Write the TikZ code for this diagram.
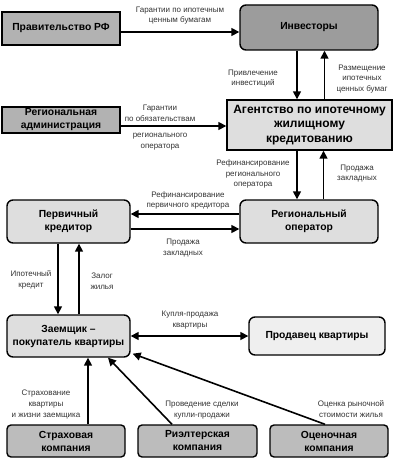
\documentclass[tikz,border=0pt]{standalone}
\usepackage{fontspec}
\setmainfont{Liberation Sans}
\usetikzlibrary{arrows.meta}
\definecolor{gmid}{HTML}{B2B2B2}
\definecolor{gdark}{HTML}{9C9C9C}
\definecolor{glight}{HTML}{DEDEDE}
\definecolor{gpale}{HTML}{EFEFEF}
\definecolor{gbot}{HTML}{BCBCBC}
\tikzset{
  box/.style={draw=black, line width=1.4pt, align=center, inner sep=1pt,
    font=\fontsize{10.3}{13}\selectfont\bfseries, text=black},
  sharpbox/.style={box},
  rbox/.style={box, rounded corners=6pt},
  sbox/.style={box, rounded corners=4pt},
  arr/.style={line width=1.6pt, -{Triangle[length=8pt,width=8pt]}},
  darr/.style={line width=1.6pt, {Triangle[length=8pt,width=8pt]}-{Triangle[length=8pt,width=8pt]}},
  lbl/.style={align=center, inner sep=0pt, text=black!80,
    font=\fontsize{8}{10.8}\selectfont}
}
\begin{document}
\begin{tikzpicture}[x=1pt,y=-1pt]
\useasboundingbox (0,0) rectangle (400,460);
% nodes
\node[sharpbox, fill=gmid, minimum width=118pt, minimum height=33pt] (gov) at (61,28.5) {Правительство РФ};
\node[rbox, fill=gdark, minimum width=138pt, minimum height=45pt] (inv) at (309,27.5) {Инвесторы};
\node[sharpbox, fill=glight, minimum width=165pt, minimum height=50pt,
  font=\fontsize{12}{14.5}\selectfont\bfseries] (ag) at (309.5,125) {Агентство по ипотечному\\жилищному\\кредитованию};
\node[sharpbox, fill=gmid, minimum width=118pt, minimum height=26pt] (radm) at (61,120) {Региональная\\администрация};
\node[rbox, fill=glight, minimum width=138pt, minimum height=43pt] (rop) at (309,221.5) {Региональный\\оператор};
\node[rbox, fill=glight, minimum width=123pt, minimum height=43pt] (pk) at (68.5,221.5) {Первичный\\кредитор};
\node[rbox, fill=glight, minimum width=123pt, minimum height=42pt] (zaem) at (68.5,336) {Заемщик –\\покупатель квартиры};
\node[rbox, fill=gpale, minimum width=136pt, minimum height=38pt] (prod) at (317,336) {Продавец квартиры};
\node[sbox, fill=gbot, minimum width=118pt, minimum height=32pt] (strah) at (66,441) {Страховая\\компания};
\node[sbox, fill=gbot, minimum width=119pt, minimum height=32pt] (riel) at (197.5,441) {Риэлтерская\\компания};
\node[sbox, fill=gbot, minimum width=118pt, minimum height=32pt] (ocen) at (329,441) {Оценочная\\компания};
% connectors
\draw[arr] ([yshift=-3.5pt]gov.east) -- ([yshift=-3.5pt]gov.east -| inv.west);
\draw[arr] ([xshift=-12pt]inv.south) -- ([xshift=-12pt]inv.south |- ag.north);
\draw[arr] ([xshift=15pt]ag.north) -- ([xshift=15pt]ag.north |- inv.south);
\draw[arr] ([yshift=-6pt]radm.east) -- ([yshift=-6pt]radm.east -| ag.west);
\draw[arr] ([xshift=-12.5pt]ag.south) -- ([xshift=-12.5pt]ag.south |- rop.north);
\draw[arr] ([xshift=14.5pt]rop.north) -- ([xshift=14.5pt]rop.north |- ag.south);
\draw[arr] ([yshift=7.5pt]rop.west) -- ([yshift=7.5pt]rop.west -| pk.east);
\draw[arr] ([yshift=-7.5pt]pk.east) -- ([yshift=-7.5pt]pk.east -| rop.west);
\draw[arr] ([xshift=-10.5pt]pk.south) -- ([xshift=-10.5pt]pk.south |- zaem.north);
\draw[arr] ([xshift=10.5pt]zaem.north) -- ([xshift=10.5pt]zaem.north |- pk.south);
\draw[darr] (zaem.east) -- (zaem.east -| prod.west);
\draw[arr] ([xshift=22pt]strah.north) -- ([xshift=22pt]strah.north |- zaem.south);
\draw[arr] ([xshift=-25.5pt]riel.north) -- ([xshift=39.5pt]zaem.south);
\draw[arr] ([xshift=-4pt]ocen.north) -- ([xshift=2pt,yshift=4pt]zaem.south east);
% labels
\node[lbl] (l1) at (180,15.5) {Гарантии по ипотечным\\ценным бумагам};
\node[lbl] (l2) at (253,78.5) {Привлечение\\инвестиций};
\node[lbl] (l3) at (362,79) {Размещение\\ипотечных\\ценных бумаг};
\node[lbl] (l4) at (160,113.5) {Гарантии\\по обязательствам};
\node[lbl] (l5) at (160,142) {регионального\\оператора};
\node[lbl] (l6) at (253,174) {Рефинансирование\\регионального\\оператора};
\node[lbl] (l7) at (357,173.5) {Продажа\\закладных};
\node[lbl] (l8) at (188,200.5) {Рефинансирование\\первичного кредитора};
\node[lbl] (l9) at (183,248) {Продажа\\закладных};
\node[lbl] (l10) at (31,279.5) {Ипотечный\\кредит};
\node[lbl] (l11) at (102,281) {Залог\\жилья};
\node[lbl] (l12) at (190,320) {Купля-продажа\\квартиры};
\node[lbl] (l13) at (46,404.5) {Страхование\\квартиры\\и жизни заемщика};
\node[lbl] (l14) at (202,410) {Проведение сделки\\купли-продажи};
\node[lbl] (l15) at (351,409) {Оценка рыночной\\стоимости жилья};
\end{tikzpicture}
\end{document}
